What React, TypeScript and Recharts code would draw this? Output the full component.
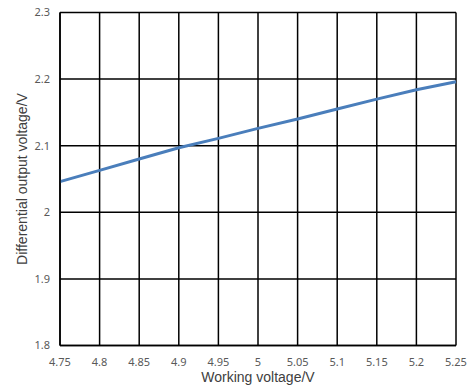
import React from "react";
import { LineChart, Line, XAxis, YAxis, CartesianGrid, Label } from "recharts";

// Working voltage (V) on the x axis
const workingVoltage = [4.75, 4.8, 4.85, 4.9, 4.95, 5.0, 5.05, 5.1, 5.15, 5.2, 5.25];
// Differential output voltage (V) measured at each working voltage
const outputVoltage = [2.046, 2.063, 2.08, 2.097, 2.111, 2.126, 2.14, 2.155, 2.17, 2.184, 2.196];

const xTicks = [4.75, 4.8, 4.85, 4.9, 4.95, 5, 5.05, 5.1, 5.15, 5.2, 5.25];
const yTicks = [1.8, 1.9, 2, 2.1, 2.2, 2.3];

const data = workingVoltage.map((v, i) => ({ v, out: outputVoltage[i] }));

const tickStyle = { fontFamily: "'Noto Sans', sans-serif", fontSize: 11, fill: "#595959" };
const titleFont = "'Liberation Sans', Arial, sans-serif";

const fmt = (n: number) => String(Math.round(n * 100) / 100);

export default function App() {
  return (
    <div style={{ position: "absolute", left: 0, top: 0, background: "#fff" }}>
      <LineChart
        width={474}
        height={391}
        data={data}
        margin={{ top: 12.5, right: 18, bottom: 0, left: 0 }}
      >
        <CartesianGrid stroke="#000" strokeWidth={1.5} />
        <XAxis
          dataKey="v"
          type="number"
          domain={[4.75, 5.25]}
          ticks={xTicks}
          tickFormatter={fmt}
          tickLine={false}
          axisLine={{ stroke: "#000", strokeWidth: 1.5 }}
          tick={tickStyle}
          tickMargin={7}
          height={45.5}
          interval={0}
        >
          <Label
            content={(props: any) => {
              const vb = props.viewBox || {};
              return (
                <text
                  x={258}
                  y={vb.y + vb.height - 9}
                  textAnchor="middle"
                  fontFamily={titleFont}
                  fontSize={14}
                  fill="#404040"
                >
                  Working voltage/V
                </text>
              );
            }}
          />
        </XAxis>
        <YAxis
          type="number"
          domain={[1.8, 2.3]}
          ticks={yTicks}
          tickFormatter={fmt}
          tickLine={false}
          axisLine={{ stroke: "#000", strokeWidth: 1.5 }}
          tick={tickStyle}
          tickMargin={4}
          width={60}
          interval={0}
        >
          <Label
            content={(props: any) => {
              const vb = props.viewBox || {};
              const cx = 22;
              const cy = vb.y + vb.height / 2;
              return (
                <text
                  x={cx}
                  y={cy}
                  transform={`rotate(-90 ${cx} ${cy})`}
                  textAnchor="middle"
                  dominantBaseline="central"
                  fontFamily={titleFont}
                  fontSize={14}
                  fill="#404040"
                >
                  Differential output voltage/V
                </text>
              );
            }}
          />
        </YAxis>
        <Line
          type="linear"
          dataKey="out"
          stroke="#4a7ebb"
          strokeWidth={3}
          dot={false}
          isAnimationActive={false}
        />
      </LineChart>
    </div>
  );
}
